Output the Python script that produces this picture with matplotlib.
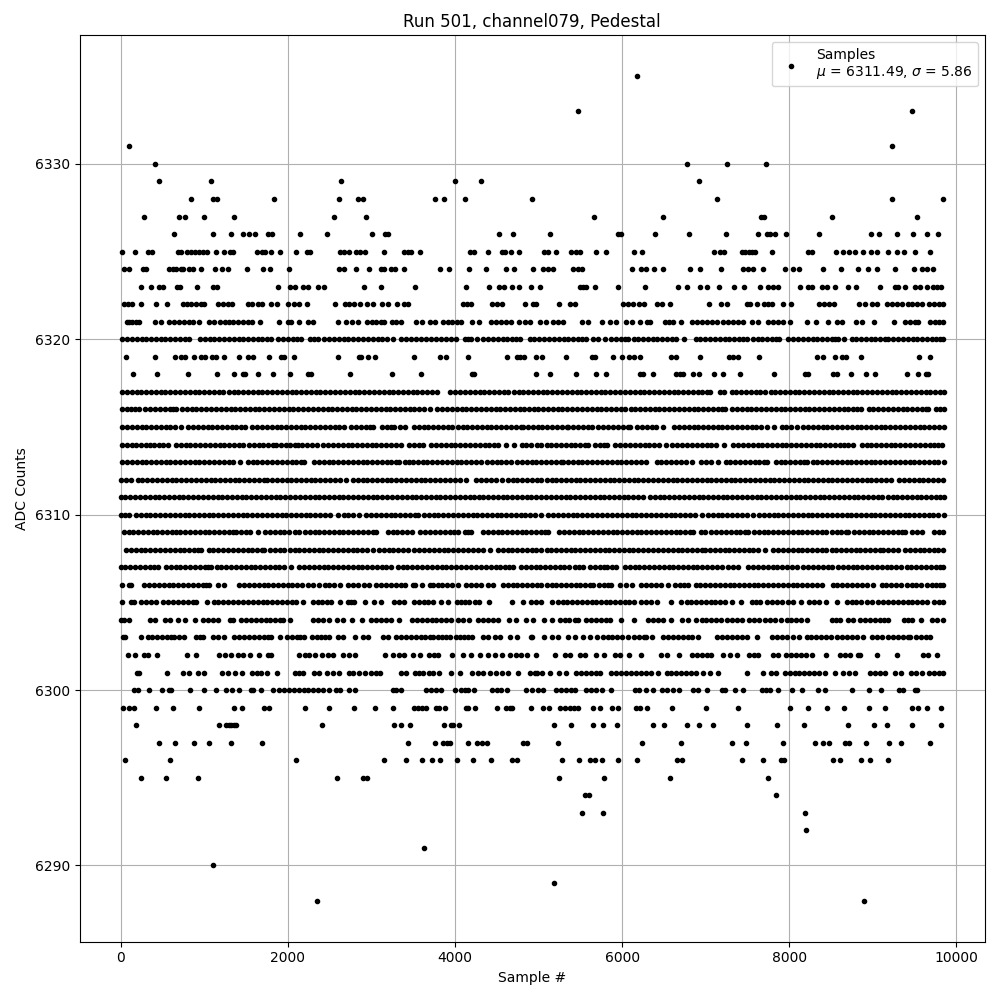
import matplotlib
matplotlib.use('Agg')
import matplotlib.pyplot as plt

# sample numbers per ADC level
s6335 = [6180]
s6333 = [5473, 9471]
s6331 = [96, 9232]
s6330 = [407, 6778, 7257, 7724]
s6329 = [455, 1077, 2633, 3998, 4309, 6922]
s6328 = [838, 1101, 1149, 1831, 2609, 2837, 2897, 3759, 3866, 4118, 4920, 7137, 9232, 9842]
s6327 = [275, 694, 766, 994, 1353, 2550, 2933, 5665, 6491, 7664, 7700, 8514, 9531]
s6326 = [634, 1101, 1317, 1460, 1532, 1604, 1760, 1807, 2143, 2466, 3004, 3160, 3196, 4525, 4692, 5138,
         5952, 5988, 6395, 6802, 7245, 7628, 7736, 7772, 7831, 7963, 8358, 8981, 9076, 9292, 9483, 9651, 9783]
s6325 = [12, 168, 323, 371, 682, 718, 790, 838, 886, 934, 982, 1029, 1137, 1233, 1305, 1341, 1628, 1688,
         1724, 1796, 1903, 2095, 2226, 2262, 2621, 2669, 2729, 2813, 2861, 2921, 3148, 3388, 3435, 3471,
         3579, 4178, 4225, 4393, 4561, 4597, 4668, 4764, 5066, 5114, 5210, 5389, 5449, 5497, 5689, 5808,
         6144, 6239, 7101, 7173, 7221, 7436, 7472, 7520, 7556, 7592, 7796, 8226, 8274, 8561, 8645, 8717,
         8789, 8885, 8981, 9053, 9184, 9292, 9376, 9507, 9687]
s6324 = [44, 96, 263, 303, 575, 620, 662, 722, 750, 822, 870, 958, 1133, 1213, 1289, 1508, 1700, 1784,
         2011, 2617, 2677, 2813, 2969, 3116, 3152, 3232, 3288, 3388, 3818, 3926, 4166, 4369, 4608, 4704,
         4935, 5054, 5114, 5174, 5413, 5473, 5525, 6112, 6231, 6291, 6383, 6491, 6814, 6930, 7185, 7448,
         7508, 7560, 7688, 7943, 8047, 8119, 8406, 8621, 8825, 8945, 9044, 9268, 9495, 9583, 9643, 9723]
s6323 = [243, 359, 463, 503, 670, 710, 910, 1109, 1157, 1887, 2031, 2091, 2186, 2238, 2358, 2438, 2909,
         3112, 3519, 4130, 4405, 4525, 4585, 4680, 4764, 4908, 5018, 5493, 5533, 5573, 5673, 5952, 6271,
         6670, 6778, 6934, 7017, 7161, 7341, 7460, 7652, 7748, 7804, 7868, 8131, 8226, 8266, 8386, 8446,
         8550, 8705, 8801, 9088, 9264, 9304, 9384, 9503, 9563, 9643, 9723, 9763, 9818]
s6322 = [44, 90, 136, 239, 423, 550, 742, 790, 845, 902, 962, 1001, 1161, 1221, 1281, 1333, 1520, 1575,
         1640, 1688, 1800, 1867, 1999, 2079, 2131, 2234, 2562, 2685, 2737, 2789, 2861, 2945, 3016, 3128,
         3196, 3308, 3384, 3439, 4094, 4140, 4193, 4441, 4500, 4565, 4840, 4932, 4964, 5246, 5381, 5437,
         6012, 6070, 6130, 6200, 6259, 6411, 6480, 6571, 7041, 7177, 7249, 7488, 7528, 7608, 7700, 7745,
         7788, 7927, 8023, 8358, 8420, 8480, 8534, 8837, 8900, 8985, 9044, 9172, 9230, 9290, 9350, 9415,
         9470, 9530, 9583, 9675, 9730, 9790, 9842]
s6321 = [72, 100, 140, 184, 220, 407, 483, 582, 640, 700, 760, 815, 862, 934, 1061, 1120, 1190, 1250, 1301,
         1341, 1400, 1465, 1520, 1568, 1664, 1899, 1999, 2039, 2131, 2238, 2298, 2601, 2697, 2765, 2837,
         2945, 3005, 3060, 3110, 3156, 3244, 3300, 3356, 3535, 3600, 3695, 3763, 3854, 3915, 3965, 4020,
         4074, 4205, 4293, 4433, 4490, 4550, 4610, 4672, 4764, 4832, 4900, 5022, 5094, 5174, 5234, 5294,
         5521, 5593, 5753, 5852, 5924, 6052, 6112, 6211, 6299, 6331, 6511, 6560, 6610, 6706, 6830, 6890,
         6950, 7010, 7070, 7129, 7209, 7270, 7330, 7390, 7448, 7548, 7628, 7740, 7800, 7860, 7930, 8007,
         8206, 8318, 8466, 8565, 8625, 8797, 8865, 9016, 9256, 9384, 9440, 9500, 9543, 9683, 9740, 9790, 9842]
s6320 = [16, 75, 130, 190, 250, 305, 365, 420, 480, 535, 595, 650, 710, 765, 822, 950, 1005, 1065, 1120,
         1180, 1235, 1295, 1350, 1410, 1465, 1525, 1580, 1640, 1695, 1750, 1800, 1879, 1947, 2005, 2060,
         2110, 2159, 2266, 2315, 2358, 2438, 2495, 2555, 2610, 2670, 2725, 2785, 2840, 2900, 2955, 3015,
         3075, 3130, 3190, 3256, 3356, 3415, 3470, 3530, 3590, 3650, 3715, 3774, 3834, 3890, 3950, 4014,
         4114, 4155, 4193, 4261, 4333, 4390, 4450, 4510, 4570, 4625, 4680, 4730, 4772, 4892, 4950, 5010,
         5065, 5125, 5180, 5240, 5300, 5355, 5415, 5470, 5525, 5573, 5653, 5713, 5800, 5872, 5930, 5985,
         6030, 6072, 6140, 6195, 6250, 6310, 6365, 6420, 6480, 6535, 6595, 6650, 6738, 6878, 6935, 6995,
         7050, 7110, 7165, 7225, 7280, 7340, 7395, 7450, 7488, 7560, 7620, 7675, 7735, 7790, 7840, 7879,
         7987, 8045, 8100, 8160, 8225, 8286, 8334, 8390, 8450, 8510, 8550, 8585, 8657, 8745, 8800, 8860,
         8915, 8975, 9030, 9090, 9140, 9184, 9244, 9300, 9360, 9415, 9475, 9530, 9590, 9645, 9705, 9760, 9800, 9842]
s6319 = [60, 407, 646, 722, 774, 874, 962, 1013, 1089, 1141, 1233, 1412, 1520, 1580, 1772, 1919, 1959, 2071,
         2597, 2849, 2881, 2957, 3044, 3507, 3818, 3890, 4154, 4624, 4740, 4780, 4820, 4967, 5046, 5330, 5641,
         5673, 5892, 6000, 6080, 6140, 6215, 6590, 6650, 6934, 7281, 7329, 7389, 7640, 8334, 8398, 8550, 8625,
         8677, 8861, 9555, 9687]
s6318 = [144, 439, 810, 1149, 1353, 1460, 1488, 1640, 1827, 2023, 2238, 2278, 2741, 3244, 3591, 4205, 4225,
         4968, 5138, 5449, 5689, 5808, 6211, 6251, 6371, 6650, 6690, 6730, 6850, 6918, 7101, 7209, 7408, 7819,
         8186, 8226, 8518, 8565, 8737, 8917, 9028, 9411, 9543, 9635, 9663]
s6317 = [16, 75, 130, 190, 245, 305, 360, 420, 480, 535, 595, 650, 710, 770, 825, 885, 940, 1000, 1060, 1115,
         1175, 1230, 1290, 1350, 1405, 1465, 1520, 1580, 1640, 1695, 1755, 1810, 1870, 1930, 1985, 2045, 2100,
         2160, 2220, 2275, 2335, 2390, 2450, 2510, 2565, 2625, 2680, 2740, 2800, 2855, 2915, 2970, 3030, 3090,
         3145, 3205, 3260, 3320, 3380, 3435, 3495, 3550, 3610, 3670, 3725, 3782, 3946, 4005, 4060, 4120, 4180,
         4235, 4295, 4350, 4410, 4470, 4525, 4585, 4640, 4700, 4760, 4815, 4875, 4930, 4990, 5050, 5105, 5165,
         5220, 5280, 5340, 5395, 5455, 5510, 5570, 5630, 5685, 5745, 5800, 5860, 5920, 5975, 6035, 6090, 6150,
         6210, 6265, 6325, 6380, 6440, 6500, 6555, 6615, 6670, 6730, 6790, 6845, 6905, 6960, 7010, 7053, 7173,
         7221, 7309, 7365, 7425, 7485, 7540, 7600, 7655, 7715, 7775, 7830, 7890, 7945, 8005, 8065, 8120, 8180,
         8235, 8295, 8355, 8410, 8470, 8525, 8585, 8645, 8700, 8760, 8815, 8875, 8935, 8990, 9050, 9105, 9165,
         9225, 9280, 9340, 9395, 9455, 9515, 9570, 9630, 9685, 9745, 9800, 9849]
s6316 = [16, 70, 125, 175, 216, 291, 350, 410, 470, 525, 585, 625, 662, 734, 790, 850, 905, 965, 1025, 1080,
         1140, 1195, 1255, 1315, 1370, 1430, 1485, 1545, 1605, 1660, 1720, 1775, 1835, 1895, 1950, 2010, 2065,
         2125, 2185, 2240, 2300, 2355, 2415, 2475, 2530, 2590, 2645, 2705, 2765, 2820, 2880, 2935, 2995, 3055,
         3110, 3170, 3225, 3285, 3345, 3400, 3460, 3515, 3575, 3635, 3695, 3787, 3845, 3905, 3960, 4020, 4080,
         4135, 4195, 4250, 4310, 4370, 4425, 4485, 4540, 4600, 4660, 4715, 4772, 4824, 4880, 4940, 4995, 5055,
         5115, 5170, 5230, 5285, 5345, 5405, 5460, 5520, 5575, 5635, 5695, 5750, 5810, 5865, 5925, 5985, 6040,
         6100, 6155, 6215, 6275, 6330, 6390, 6445, 6505, 6565, 6620, 6680, 6735, 6795, 6855, 6910, 6970, 7025,
         7085, 7145, 7190, 7229, 7313, 7370, 7430, 7490, 7545, 7605, 7660, 7720, 7780, 7835, 7895, 7950, 8010,
         8070, 8125, 8185, 8240, 8300, 8360, 8415, 8475, 8530, 8590, 8650, 8705, 8765, 8815, 8857, 8949, 9005,
         9065, 9120, 9180, 9240, 9295, 9355, 9410, 9470, 9530, 9585, 9630, 9663, 9751, 9805, 9849]
s6315 = [16, 75, 130, 190, 250, 305, 365, 420, 480, 540, 595, 655, 722, 806, 865, 920, 980, 1040, 1095, 1155,
         1210, 1270, 1330, 1385, 1440, 1488, 1572, 1630, 1690, 1745, 1805, 1865, 1920, 1980, 2035, 2095, 2155,
         2210, 2270, 2325, 2385, 2445, 2500, 2560, 2615, 2669, 2757, 2815, 2875, 2930, 2985, 3024, 3128, 3185,
         3235, 3276, 3344, 3407, 3507, 3565, 3625, 3680, 3740, 3800, 3855, 3915, 3970, 4030, 4090, 4145, 4205,
         4260, 4320, 4380, 4435, 4495, 4550, 4610, 4670, 4725, 4785, 4812, 4872, 4930, 4990, 5045, 5105, 5160,
         5220, 5280, 5335, 5355, 5413, 5470, 5530, 5590, 5641, 5717, 5775, 5835, 5895, 5950, 6010, 6065, 6092,
         6180, 6240, 6295, 6355, 6410, 6483, 6622, 6680, 6735, 6795, 6855, 6910, 6970, 7025, 7085, 7145, 7200,
         7260, 7315, 7375, 7435, 7490, 7550, 7605, 7665, 7736, 7820, 7911, 7965, 8025, 8087, 8167, 8225, 8280,
         8340, 8400, 8455, 8515, 8570, 8630, 8690, 8745, 8805, 8860, 8920, 8980, 9035, 9095, 9150, 9210, 9270,
         9325, 9385, 9440, 9500, 9560, 9615, 9675, 9730, 9790, 9849]
s6314 = [16, 70, 130, 185, 240, 300, 345, 400, 455, 510, 562, 662, 720, 780, 835, 895, 950, 1010, 1070, 1125,
         1185, 1240, 1300, 1360, 1415, 1460, 1532, 1590, 1650, 1705, 1765, 1820, 1859, 1915, 1975, 2030, 2080,
         2119, 2175, 2235, 2290, 2350, 2418, 2478, 2535, 2598, 2657, 2715, 2770, 2830, 2890, 2945, 3005, 3060,
         3120, 3180, 3235, 3296, 3348, 3455, 3510, 3565, 3615, 3715, 3775, 3830, 3890, 3950, 4005, 4065, 4120,
         4180, 4240, 4295, 4355, 4410, 4470, 4513, 4605, 4704, 4804, 4852, 4912, 4980, 5035, 5095, 5150, 5210,
         5270, 5325, 5385, 5440, 5500, 5560, 5597, 5677, 5735, 5780, 5820, 5920, 5980, 6035, 6095, 6155, 6210,
         6270, 6325, 6385, 6445, 6523, 6602, 6660, 6720, 6775, 6830, 6890, 6950, 7010, 7069, 7121, 7221, 7329,
         7385, 7445, 7500, 7560, 7620, 7675, 7735, 7790, 7850, 7910, 7965, 8025, 8080, 8140, 8200, 8255, 8315,
         8370, 8430, 8490, 8545, 8605, 8660, 8705, 8765, 8865, 8925, 8980, 9040, 9100, 9155, 9215, 9270, 9330,
         9390, 9445, 9505, 9560, 9620, 9680, 9735, 9780, 9822]
s6313 = [16, 75, 130, 190, 250, 305, 365, 420, 480, 540, 595, 655, 710, 770, 830, 885, 942, 1002, 1060, 1120,
         1175, 1235, 1295, 1341, 1428, 1520, 1580, 1635, 1695, 1755, 1810, 1870, 1925, 1985, 2045, 2100, 2160,
         2198, 2314, 2370, 2430, 2490, 2545, 2605, 2660, 2720, 2780, 2835, 2895, 2950, 3010, 3070, 3125, 3185,
         3240, 3300, 3328, 3396, 3450, 3495, 3555, 3615, 3670, 3730, 3785, 3845, 3905, 3960, 4020, 4075, 4135,
         4195, 4250, 4313, 4381, 4440, 4500, 4555, 4615, 4672, 4744, 4800, 4860, 4920, 4975, 5035, 5090, 5150,
         5210, 5265, 5295, 5353, 5410, 5470, 5525, 5585, 5645, 5700, 5760, 5815, 5875, 5935, 5990, 6050, 6105,
         6165, 6225, 6291, 6411, 6470, 6530, 6585, 6645, 6700, 6760, 6838, 6938, 7000, 7069, 7149, 7237, 7295,
         7350, 7410, 7470, 7525, 7585, 7640, 7700, 7736, 7835, 7895, 7950, 8010, 8070, 8125, 8170, 8206, 8278,
         8335, 8395, 8450, 8510, 8570, 8625, 8685, 8740, 8800, 8860, 8915, 8975, 9030, 9090, 9150, 9205, 9265,
         9320, 9380, 9440, 9495, 9555, 9610, 9670, 9730, 9785, 9849]
s6312 = [0, 60, 124, 203, 260, 320, 375, 435, 495, 550, 610, 665, 725, 785, 840, 900, 955, 1015, 1075, 1130,
         1190, 1245, 1305, 1365, 1420, 1480, 1535, 1595, 1655, 1710, 1748, 1807, 1865, 1925, 1985, 2040, 2100,
         2155, 2215, 2275, 2330, 2390, 2445, 2505, 2565, 2620, 2697, 2777, 2835, 2895, 2950, 3010, 3065, 3125,
         3185, 3240, 3300, 3355, 3415, 3475, 3530, 3590, 3645, 3705, 3765, 3820, 3880, 3935, 3995, 4055, 4134,
         4253, 4310, 4370, 4430, 4485, 4565, 4632, 4690, 4745, 4805, 4865, 4920, 4980, 5035, 5095, 5155, 5210,
         5270, 5325, 5385, 5445, 5500, 5560, 5615, 5675, 5735, 5790, 5850, 5905, 5965, 6025, 6080, 6140, 6195,
         6255, 6315, 6370, 6430, 6485, 6545, 6605, 6660, 6720, 6775, 6835, 6895, 6950, 7010, 7065, 7125, 7185,
         7240, 7300, 7355, 7415, 7475, 7530, 7590, 7645, 7705, 7765, 7820, 7880, 7935, 7995, 8055, 8110, 8170,
         8225, 8285, 8345, 8400, 8460, 8515, 8575, 8635, 8690, 8750, 8805, 8865, 8925, 8980, 9040, 9095, 9160,
         9212, 9316, 9375, 9430, 9490, 9550, 9605, 9665, 9720, 9780, 9842]
s6311 = [0, 55, 115, 170, 230, 290, 345, 405, 460, 520, 580, 635, 695, 750, 810, 870, 925, 985, 1040, 1100,
         1160, 1215, 1275, 1330, 1390, 1450, 1505, 1565, 1620, 1680, 1740, 1795, 1855, 1910, 1970, 2030, 2085,
         2145, 2200, 2260, 2320, 2375, 2435, 2490, 2550, 2610, 2665, 2725, 2780, 2840, 2900, 2955, 3015, 3070,
         3130, 3190, 3245, 3305, 3360, 3420, 3480, 3535, 3595, 3650, 3710, 3770, 3825, 3885, 3940, 4000, 4060,
         4115, 4175, 4230, 4290, 4333, 4393, 4453, 4510, 4570, 4625, 4685, 4745, 4800, 4860, 4915, 4975, 5035,
         5090, 5150, 5205, 5265, 5325, 5380, 5440, 5495, 5555, 5615, 5670, 5730, 5785, 5845, 5905, 5960, 6020,
         6075, 6135, 6195, 6250, 6331, 6391, 6450, 6505, 6565, 6625, 6680, 6740, 6795, 6855, 6915, 6970, 7030,
         7085, 7145, 7205, 7260, 7320, 7375, 7435, 7495, 7550, 7610, 7665, 7725, 7785, 7840, 7900, 7955, 8015,
         8075, 8130, 8190, 8245, 8305, 8365, 8420, 8480, 8535, 8595, 8655, 8710, 8770, 8825, 8885, 8945, 9000,
         9060, 9115, 9175, 9235, 9290, 9350, 9405, 9465, 9525, 9580, 9640, 9695, 9755, 9800, 9849]
s6310 = [0, 50, 104, 184, 240, 300, 355, 415, 475, 530, 590, 645, 705, 765, 820, 880, 935, 995, 1055, 1110,
         1170, 1225, 1285, 1345, 1400, 1460, 1515, 1575, 1635, 1690, 1750, 1805, 1865, 1925, 1980, 2040, 2095,
         2155, 2215, 2270, 2330, 2385, 2445, 2505, 2597, 2669, 2725, 2785, 2857, 2937, 2995, 3055, 3110, 3170,
         3230, 3285, 3345, 3400, 3460, 3520, 3555, 3627, 3685, 3745, 3800, 3860, 3920, 3975, 4035, 4090, 4150,
         4210, 4265, 4325, 4380, 4440, 4500, 4555, 4615, 4670, 4730, 4790, 4832, 4895, 4960, 5034, 5118, 5175,
         5235, 5290, 5350, 5410, 5465, 5525, 5580, 5640, 5700, 5753, 5824, 5880, 5940, 6000, 6055, 6115, 6170,
         6230, 6290, 6345, 6405, 6460, 6520, 6580, 6635, 6695, 6750, 6810, 6870, 6950, 7030, 7085, 7145, 7200,
         7260, 7320, 7375, 7435, 7490, 7568, 7640, 7695, 7755, 7815, 7870, 7930, 7985, 8045, 8105, 8160, 8220,
         8275, 8335, 8395, 8450, 8510, 8565, 8625, 8685, 8740, 8800, 8855, 8915, 8975, 9030, 9090, 9145, 9205,
         9265, 9320, 9380, 9435, 9495, 9555, 9610, 9670, 9725, 9785, 9849]
s6309 = [36, 95, 150, 210, 265, 325, 385, 440, 500, 555, 615, 662, 714, 770, 830, 890, 945, 1005, 1060, 1120,
         1180, 1235, 1295, 1340, 1380, 1440, 1495, 1548, 1640, 1732, 1790, 1850, 1905, 1959, 2019, 2080, 2139,
         2203, 2260, 2320, 2375, 2435, 2495, 2550, 2610, 2665, 2725, 2785, 2840, 2900, 2955, 3015, 3056, 3196,
         3255, 3310, 3370, 3430, 3487, 3587, 3645, 3705, 3760, 3820, 3880, 3935, 3990, 4034, 4114, 4155, 4193,
         4333, 4390, 4450, 4510, 4565, 4625, 4680, 4740, 4800, 4855, 4915, 4970, 5030, 5075, 5114, 5246, 5305,
         5360, 5420, 5480, 5535, 5595, 5650, 5710, 5770, 5825, 5885, 5940, 6000, 6060, 6115, 6175, 6230, 6290,
         6350, 6405, 6465, 6520, 6580, 6640, 6695, 6755, 6810, 6850, 6938, 6990, 7069, 7125, 7185, 7240, 7300,
         7360, 7415, 7475, 7508, 7576, 7635, 7695, 7750, 7810, 7865, 7925, 7985, 8040, 8100, 8155, 8215, 8275,
         8330, 8390, 8445, 8505, 8565, 8620, 8680, 8705, 8773, 8830, 8890, 8950, 9005, 9065, 9120, 9180, 9240,
         9295, 9345, 9383, 9463, 9525, 9583, 9735, 9790, 9842]
s6308 = [64, 125, 180, 240, 295, 355, 415, 470, 530, 585, 645, 705, 760, 820, 875, 925, 961, 1053, 1110, 1170,
         1230, 1285, 1345, 1400, 1460, 1520, 1575, 1635, 1690, 1720, 1788, 1845, 1905, 1960, 2020, 2080, 2135,
         2195, 2250, 2310, 2370, 2425, 2485, 2540, 2600, 2660, 2715, 2775, 2830, 2890, 2950, 3016, 3088, 3145,
         3205, 3260, 3320, 3380, 3435, 3507, 3575, 3630, 3690, 3750, 3805, 3865, 3920, 3980, 4040, 4095, 4155,
         4210, 4270, 4330, 4413, 4513, 4570, 4630, 4685, 4745, 4805, 4860, 4920, 4975, 5035, 5095, 5150, 5210,
         5265, 5325, 5385, 5440, 5500, 5555, 5615, 5675, 5730, 5790, 5845, 5905, 5965, 6020, 6080, 6135, 6195,
         6255, 6310, 6370, 6423, 6491, 6550, 6605, 6665, 6720, 6780, 6840, 6895, 6950, 6990, 7049, 7105, 7165,
         7225, 7280, 7340, 7395, 7455, 7515, 7570, 7630, 7708, 7808, 7865, 7925, 7980, 8040, 8100, 8155, 8215,
         8270, 8330, 8390, 8445, 8505, 8560, 8620, 8680, 8735, 8795, 8850, 8910, 8970, 9025, 9080, 9124, 9184,
         9245, 9303, 9383, 9440, 9500, 9560, 9615, 9675, 9730, 9783, 9834]
s6307 = [0, 55, 115, 170, 230, 290, 345, 400, 443, 543, 600, 660, 715, 775, 830, 890, 950, 1005, 1050, 1081,
         1149, 1205, 1265, 1320, 1380, 1440, 1495, 1555, 1610, 1670, 1730, 1785, 1845, 1900, 1960, 2039, 2139,
         2195, 2255, 2310, 2370, 2430, 2485, 2545, 2600, 2660, 2720, 2775, 2835, 2890, 2950, 3010, 3065, 3125,
         3180, 3236, 3316, 3375, 3430, 3490, 3550, 3605, 3665, 3720, 3780, 3840, 3895, 3955, 4010, 4070, 4134,
         4193, 4250, 4310, 4365, 4425, 4485, 4540, 4600, 4650, 4692, 4792, 4850, 4905, 4965, 5020, 5080, 5140,
         5195, 5255, 5310, 5370, 5430, 5485, 5533, 5613, 5670, 5730, 5785, 5820, 5884, 5932, 6032, 6090, 6150,
         6205, 6265, 6320, 6380, 6440, 6495, 6555, 6610, 6670, 6730, 6785, 6845, 6900, 6960, 7020, 7075, 7135,
         7190, 7269, 7329, 7389, 7508, 7565, 7625, 7680, 7740, 7800, 7855, 7915, 7970, 8030, 8090, 8167, 8226,
         8285, 8345, 8400, 8460, 8506, 8585, 8640, 8700, 8760, 8815, 8875, 8930, 8990, 9050, 9105, 9165, 9220,
         9280, 9340, 9403, 9460, 9520, 9575, 9635, 9690, 9750, 9800, 9842]
s6306 = [12, 96, 124, 283, 340, 400, 455, 515, 575, 630, 690, 745, 805, 865, 920, 980, 1025, 1061, 1161, 1241,
         1420, 1475, 1535, 1595, 1650, 1710, 1765, 1825, 1885, 1940, 2000, 2055, 2115, 2175, 2240, 2298, 2378,
         2440, 2498, 2550, 2625, 2717, 2775, 2835, 2917, 2977, 3056, 3115, 3175, 3230, 3290, 3350, 3405, 3495,
         3527, 3610, 3695, 3735, 3795, 3850, 3910, 3970, 4034, 4134, 4190, 4250, 4310, 4393, 4453, 4573, 4630,
         4690, 4745, 4805, 4865, 4920, 4980, 5035, 5095, 5155, 5210, 5270, 5325, 5385, 5445, 5500, 5560, 5615,
         5653, 5725, 5785, 5830, 5872, 5972, 6052, 6120, 6231, 6290, 6350, 6405, 6465, 6551, 6630, 6690, 6745,
         6790, 6878, 6935, 6995, 7050, 7110, 7170, 7225, 7285, 7340, 7400, 7460, 7515, 7575, 7630, 7690, 7750,
         7805, 7865, 7920, 7980, 8040, 8095, 8155, 8210, 8270, 8330, 8386, 8518, 8575, 8635, 8690, 8750, 8810,
         8865, 8925, 9005, 9104, 9160, 9220, 9275, 9335, 9403, 9463, 9520, 9580, 9643, 9703, 9760, 9800, 9842]
s6305 = [12, 124, 164, 243, 300, 360, 423, 511, 565, 622, 682, 740, 800, 860, 902, 1029, 1113, 1170, 1230, 1285,
         1345, 1405, 1460, 1520, 1580, 1640, 1700, 1755, 1815, 1870, 1930, 1990, 2045, 2099, 2186, 2298, 2355,
         2410, 2465, 2518, 2625, 2717, 2760, 2797, 2929, 3036, 3116, 3276, 3335, 3395, 3507, 3565, 3625, 3680,
         3740, 3834, 3914, 4026, 4070, 4114, 4173, 4235, 4293, 4401, 4680, 4812, 4912, 4965, 5034, 5162, 5230,
         5295, 5342, 5400, 5460, 5515, 5575, 5635, 5690, 5750, 5805, 5852, 5910, 5970, 6030, 6085, 6140, 6231,
         6290, 6350, 6411, 6590, 6710, 6770, 6825, 6885, 6940, 7000, 7060, 7115, 7175, 7230, 7309, 7417, 7548,
         7600, 7648, 7736, 7795, 7855, 7915, 7990, 8047, 8143, 8238, 8300, 8358, 8445, 8573, 8685, 8745, 8800,
         8860, 8925, 8985, 9064, 9120, 9180, 9240, 9295, 9355, 9415, 9470, 9530, 9590, 9643, 9731, 9790, 9842]
s6304 = [4, 40, 104, 351, 415, 535, 590, 690, 774, 886, 990, 1050, 1110, 1161, 1309, 1341, 1440, 1500, 1560, 1615,
         1675, 1735, 1790, 1850, 1905, 1947, 2023, 2298, 2360, 2420, 2498, 2586, 2665, 2765, 2885, 2997, 3060,
         3120, 3180, 3236, 3328, 3483, 3540, 3600, 3660, 3720, 3775, 3834, 3894, 3955, 4030, 4094, 4173, 4273,
         4335, 4395, 4450, 4513, 4641, 4732, 4852, 4932, 5066, 5162, 5254, 5315, 5370, 5430, 5473, 5573, 5630,
         5690, 5745, 5805, 5860, 5992, 6140, 6311, 6370, 6430, 6491, 6590, 6722, 6790, 6882, 6950, 7005, 7065,
         7120, 7177, 7249, 7310, 7370, 7428, 7520, 7580, 7640, 7708, 7768, 7830, 7896, 7967, 8025, 8085, 8145,
         8207, 8506, 8560, 8605, 8705, 8765, 8845, 8905, 8965, 9020, 9080, 9135, 9184, 9372, 9420, 9463, 9571,
         9703, 9770, 9842]
s6303 = [24, 52, 243, 323, 380, 440, 495, 555, 600, 642, 702, 762, 902, 950, 990, 1101, 1161, 1233, 1353, 1420, 1480,
         1535, 1595, 1655, 1710, 1760, 1800, 1903, 1987, 2045, 2105, 2150, 2198, 2286, 2345, 2400, 2450, 2498, 2597,
         2657, 2805, 2905, 2957, 3144, 3200, 3296, 3355, 3415, 3470, 3530, 3590, 3645, 3695, 3735, 3795, 3850, 3894,
         3942, 4014, 4060, 4110, 4160, 4205, 4333, 4400, 4473, 4541, 4656, 4740, 4908, 4923, 5066, 5162, 5234, 5353,
         5433, 5533, 5613, 5705, 5765, 5825, 5880, 5940, 6000, 6072, 6144, 6200, 6260, 6291, 6359, 6491, 6550, 6610,
         6665, 6725, 6785, 6840, 6910, 7137, 7195, 7255, 7310, 7370, 7430, 7488, 7608, 7796, 7855, 7915, 7970, 8047,
         8119, 8206, 8265, 8325, 8380, 8440, 8500, 8565, 8625, 8690, 8745, 8805, 8885, 8985, 9045, 9105, 9184, 9244,
         9300, 9360, 9415, 9443, 9515, 9570, 9630, 9683]
s6302 = [84, 168, 283, 331, 431, 790, 898, 1173, 1245, 1317, 1400, 1460, 1544, 1660, 1760, 1800, 2139, 2200, 2258,
         2322, 2410, 2478, 2546, 2657, 2730, 2801, 3160, 3256, 3325, 3395, 3495, 3583, 3687, 3745, 3794, 3962, 4094,
         4190, 4305, 4393, 4481, 4565, 4656, 4732, 4792, 4860, 4974, 5198, 5314, 5373, 5493, 5553, 5685, 5780, 5912,
         5980, 6084, 6227, 6459, 6531, 6682, 6830, 6890, 6950, 7010, 7069, 7209, 7290, 7369, 7520, 7580, 7628, 7808,
         7868, 7956, 8015, 8080, 8140, 8205, 8266, 8438, 8605, 8665, 8725, 8825, 8845, 9044, 9284, 9595, 9663, 9771]
s6301 = [192, 224, 551, 742, 814, 922, 1001, 1213, 1281, 1365, 1448, 1568, 1628, 1684, 1748, 1867, 2087, 2137, 2187,
         2318, 2378, 2466, 2538, 2609, 2729, 2777, 2849, 2925, 2997, 3056, 3108, 3348, 3415, 3527, 3575, 3623, 3683,
         3735, 3814, 3954, 4058, 4205, 4270, 4333, 4421, 4493, 4560, 4632, 4752, 4892, 4955, 4980, 5046, 5142,
         5246, 5334, 5453, 5510, 5570, 5630, 5685, 5732, 5872, 5930, 5990, 6045, 6105, 6165, 6220, 6280, 6340, 6431,
         6531, 6590, 6650, 6705, 6765, 6825, 6880, 6970, 7049, 7149, 7496, 7680, 7776, 7839, 7947, 8005, 8065, 8120,
         8180, 8240, 8295, 8355, 8426, 8546, 8645, 8715, 8785, 8965, 9030, 9090, 9144, 9264, 9332, 9451, 9515, 9583,
         9675, 9730, 9790, 9842]
s6300 = [164, 204, 343, 495, 575, 602, 826, 994, 1137, 1261, 1333, 1412, 1560, 1588, 1684, 1823, 1899, 1955, 2015,
         2070, 2130, 2190, 2245, 2305, 2365, 2420, 2498, 2577, 2625, 2737, 2801, 3256, 3300, 3356, 3655, 3715, 3775,
         3834, 4002, 4074, 4115, 4153, 4233, 4445, 4500, 4553, 4624, 4852, 4920, 4992, 5054, 5214, 5270, 5330, 5385,
         5433, 5573, 5630, 5690, 5753, 5872, 6152, 6203, 6291, 6371, 6471, 6539, 6610, 6678, 6850, 6910, 7013, 7189,
         7229, 7353, 7448, 7668, 7720, 7768, 7868, 8027, 8151, 8346, 8426, 8753, 8957, 9100, 9316, 9364, 9503, 9531]
s6299 = [24, 104, 164, 419, 622, 934, 1353, 1448, 1712, 1772, 2202, 2490, 2789, 3040, 3256, 3507, 3555, 3607, 3655,
         3775, 3807, 3878, 4126, 4154, 4237, 4501, 4605, 4653, 4685, 4912, 5054, 5126, 5262, 5314, 5373, 5421, 5473,
         5653, 5733, 5884, 5952, 6164, 6211, 6299, 6598, 7005, 7389, 8011, 8226, 8454, 8657, 8953, 9148, 9463, 9543,
         9651, 9811]
s6298 = [180, 1173, 1261, 1293, 1325, 1357, 1385, 2406, 3268, 3352, 3459, 3866, 3954, 3974, 4046, 5186, 5389, 5653,
         5773, 5940, 6371, 6503, 6778, 6922, 7089, 7496, 7855, 8179, 8705, 9012, 9172, 9471, 9818]
s6297 = [463, 654, 874, 1053, 1317, 1688, 3435, 3763, 3854, 3900, 3942, 4153, 4261, 4325, 4381, 4812, 4864, 5234,
         6239, 6706, 7317, 7484, 7927, 8310, 8406, 8478, 8665, 8717, 8921, 9196, 9340, 9687]
s6296 = [48, 587, 2095, 3148, 3415, 3603, 3723, 3818, 4022, 4213, 4429, 4680, 4740, 5282, 5485, 5613, 5673, 5760,
         5952, 6180, 6658, 6718, 7436, 7688, 7899, 7939, 8526, 8609, 8861, 8969, 9184]
s6295 = [239, 539, 922, 2586, 2905, 2949, 5246, 5785, 6575, 7748]
s6294 = [5553, 5601, 7843]
s6293 = [5521, 5773, 8190]
s6292 = [8202]
s6291 = [3627]
s6290 = [1101]
s6289 = [5186]
s6288 = [2346, 8897]

levels = [(6335, s6335), (6333, s6333), (6331, s6331), (6330, s6330), (6329, s6329), (6328, s6328), (6327, s6327),
          (6326, s6326), (6325, s6325), (6324, s6324), (6323, s6323), (6322, s6322), (6321, s6321), (6320, s6320),
          (6319, s6319), (6318, s6318), (6317, s6317), (6316, s6316), (6315, s6315), (6314, s6314), (6313, s6313),
          (6312, s6312), (6311, s6311), (6310, s6310), (6309, s6309), (6308, s6308), (6307, s6307), (6306, s6306),
          (6305, s6305), (6304, s6304), (6303, s6303), (6302, s6302), (6301, s6301), (6300, s6300), (6299, s6299),
          (6298, s6298), (6297, s6297), (6296, s6296), (6295, s6295), (6294, s6294), (6293, s6293), (6292, s6292),
          (6291, s6291), (6290, s6290), (6289, s6289), (6288, s6288)]

x = []
y = []
for adc, samples in levels:
    x += samples
    y += [adc] * len(samples)

fig, ax = plt.subplots(figsize=(10, 10), dpi=100)
ax.scatter(x, y, s=36, c='k', marker='.', label='Samples\n$\\mu$ = 6311.49, $\\sigma$ = 5.86')
ax.set_title('Run 501, channel079, Pedestal')
ax.set_xlabel('Sample #')
ax.set_ylabel('ADC Counts')
ax.grid(True)
ax.set_axisbelow(True)
ax.legend(loc='upper right')
fig.tight_layout()
fig.subplots_adjust(top=0.965)
fig.savefig('out.png')
